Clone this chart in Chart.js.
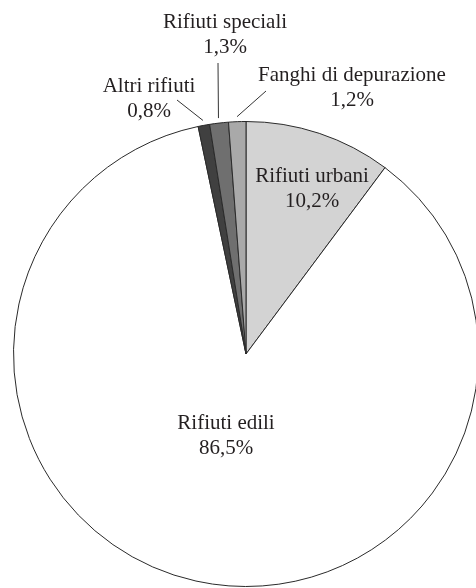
<!DOCTYPE html>
<html>
<head>
<meta charset="utf-8">
<script src="https://cdn.jsdelivr.net/npm/chart.js@4.4.1/dist/chart.umd.min.js"></script>
<style>
    html, body { margin: 0; padding: 0; background: #fff; overflow: hidden; }
    #wrap { position: absolute; left: 0; top: 0; width: 500px; height: 600px; }
</style>
</head>
<body>
<div id="wrap"><canvas id="pie" width="500" height="600"></canvas></div>
<script>
// Data (clockwise from 12 o'clock)
const categories = ['Rifiuti urbani', 'Rifiuti edili', 'Altri rifiuti', 'Rifiuti speciali', 'Fanghi di depurazione'];
const shares = [10.2, 86.5, 0.8, 1.3, 1.2];
const percentLabels = ['10,2%', '86,5%', '0,8%', '1,3%', '1,2%'];

const sliceColors = ['#d3d3d3', '#ffffff', '#404040', '#6f6f6f', '#a9a9a9'];

// Where each label sits (baseline of first line) and where its leader starts
const labelSpots = [
    { x: 312, y: 182 },
    { x: 226, y: 429 },
    { x: 149, y: 92, lineFrom: [177, 100] },
    { x: 225, y: 28, lineFrom: [218, 63] },
    { x: 352, y: 81, lineFrom: [266, 91] }
];

const pieLabels = {
    id: 'pieLabels',
    afterDatasetsDraw(chart) {
        const ctx = chart.ctx;
        const arcs = chart.getDatasetMeta(0).data;
        ctx.save();
        ctx.font = '21px "Liberation Serif", "DejaVu Serif", serif';
        ctx.fillStyle = '#231f20';
        ctx.textAlign = 'center';
        ctx.textBaseline = 'alphabetic';
        arcs.forEach((arc, i) => {
            const spot = labelSpots[i];
            ctx.fillText(categories[i], spot.x, spot.y);
            ctx.fillText(percentLabels[i], spot.x, spot.y + 25);
            if (spot.lineFrom) {
                const p = arc.getProps(['x', 'y', 'startAngle', 'endAngle', 'outerRadius'], true);
                const mid = (p.startAngle + p.endAngle) / 2;
                const r = p.outerRadius + 5;
                ctx.beginPath();
                ctx.strokeStyle = '#333';
                ctx.lineWidth = 1;
                ctx.moveTo(spot.lineFrom[0], spot.lineFrom[1]);
                ctx.lineTo(p.x + Math.cos(mid) * r, p.y + Math.sin(mid) * r);
                ctx.stroke();
            }
        });
        ctx.restore();
    }
};

new Chart(document.getElementById('pie'), {
    type: 'pie',
    data: {
        labels: categories,
        datasets: [{
            data: shares,
            backgroundColor: sliceColors,
            borderColor: '#2a2a2a',
            borderWidth: 1
        }]
    },
    options: {
        responsive: false,
        animation: false,
        layout: { padding: { left: 13, top: 121, right: 21, bottom: 13 } },
        plugins: {
            legend: { display: false },
            tooltip: { enabled: false }
        }
    },
    plugins: [pieLabels]
});
</script>
</body>
</html>
